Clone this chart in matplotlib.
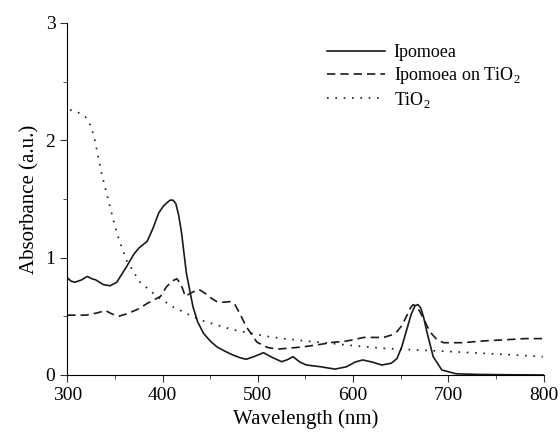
import numpy as np
import matplotlib
matplotlib.use("Agg")
import matplotlib.pyplot as plt
from matplotlib.ticker import MultipleLocator

plt.rcParams['font.family'] = ['Liberation Serif', 'DejaVu Serif']
plt.rcParams['mathtext.fontset'] = 'custom'
plt.rcParams['mathtext.rm'] = 'Liberation Serif'

# Ipomoea (solid)
wl_ipo = [300, 304, 308, 315, 321, 326, 330, 338, 345, 352, 362, 370, 375, 384, 390, 396, 401, 405,
          408, 411, 414, 417, 420, 425, 432, 437, 443, 450, 457, 466, 474, 482, 488, 497, 506, 515,
          525, 531, 537, 544, 551, 566, 581, 593, 602, 610, 620, 630, 640, 646, 651, 656, 661, 665,
          668, 671, 674, 677, 684, 693, 708, 730, 760, 800]
ab_ipo = [0.83, 0.80, 0.79, 0.81, 0.84, 0.82, 0.81, 0.77, 0.76, 0.79, 0.92, 1.03, 1.08, 1.14, 1.25, 1.38, 1.44, 1.47,
          1.49, 1.49, 1.46, 1.36, 1.21, 0.87, 0.58, 0.45, 0.355, 0.29, 0.24, 0.20, 0.17, 0.145, 0.134, 0.16, 0.19, 0.15,
          0.113, 0.13, 0.156, 0.11, 0.085, 0.07, 0.05, 0.07, 0.11, 0.128, 0.11, 0.085, 0.1, 0.14, 0.24, 0.38, 0.52, 0.59,
          0.60, 0.57, 0.49, 0.38, 0.156, 0.043, 0.01, 0.005, 0.002, 0.0]

# Ipomoea on TiO2 (dashed)
wl_dye = [300, 310, 320, 332, 340, 347, 354, 364, 374, 384, 398, 404, 410, 415, 419,
          424, 430, 438, 444, 450, 457, 464, 471, 476, 481, 488, 499, 510, 520, 535,
          548, 565, 580, 590, 600, 611, 622, 632, 640, 646, 651, 656, 660, 663, 667,
          670, 674, 678, 682, 688, 695, 715, 736, 760, 780, 800]
ab_dye = [0.51, 0.51, 0.51, 0.53, 0.55, 0.52, 0.50, 0.525, 0.56, 0.61, 0.67, 0.75, 0.80, 0.82, 0.78,
          0.67, 0.70, 0.73, 0.70, 0.66, 0.625, 0.62, 0.625, 0.60, 0.525, 0.41, 0.28, 0.235, 0.22, 0.23,
          0.24, 0.26, 0.28, 0.285, 0.30, 0.32, 0.32, 0.32, 0.34, 0.37, 0.42, 0.50, 0.57, 0.60, 0.58,
          0.54, 0.48, 0.41, 0.355, 0.30, 0.275, 0.275, 0.29, 0.30, 0.31, 0.31]

# TiO2 (dotted)
wl_tio = [303, 311, 319, 325, 329, 336, 345, 352, 362, 376, 394, 411, 439, 474, 509,
          527, 550, 576, 600, 632, 666, 700, 736, 770, 799]
ab_tio = [2.26, 2.24, 2.20, 2.12, 2.0, 1.72, 1.43, 1.21, 0.98, 0.795, 0.67, 0.58, 0.47, 0.385, 0.33,
          0.31, 0.29, 0.27, 0.25, 0.227, 0.213, 0.20, 0.185, 0.17, 0.156]

fig = plt.figure(figsize=(5.6, 4.33), dpi=100)
ax = fig.add_axes([0.12, 0.134, 0.851, 0.813])

ax.plot(wl_ipo, ab_ipo, color='#1a1a1a', lw=1.2, ls='-', label='Ipomoea')
ax.plot(wl_dye, ab_dye, color='#1a1a1a', lw=1.2, ls=(0, (5, 3)), label='Ipomoea on TiO$_2$')
ax.plot(wl_tio, ab_tio, color='#1a1a1a', lw=1.2, ls=(0, (1, 4)), label='TiO$_2$')

ax.set_xlim(300, 800)
ax.set_ylim(0, 3)
ax.xaxis.set_major_locator(MultipleLocator(100))
ax.xaxis.set_minor_locator(MultipleLocator(50))
ax.yaxis.set_major_locator(MultipleLocator(1))
ax.yaxis.set_minor_locator(MultipleLocator(0.5))
ax.tick_params(which='both', direction='out', labelsize=14, color='#333333')
ax.tick_params(which='major', length=5)
ax.tick_params(which='minor', length=3)
ax.spines['top'].set_visible(False)
ax.spines['right'].set_visible(False)
ax.set_xlabel('Wavelength (nm)', fontsize=15)
ax.set_ylabel('Absorbance (a.u.)', fontsize=15)

ax.legend(loc='upper right', bbox_to_anchor=(0.985, 0.985), frameon=False, fontsize=13,
          handlelength=3.2, handletextpad=0.5, labelspacing=0.2)

fig.savefig('out.png', dpi=100)
